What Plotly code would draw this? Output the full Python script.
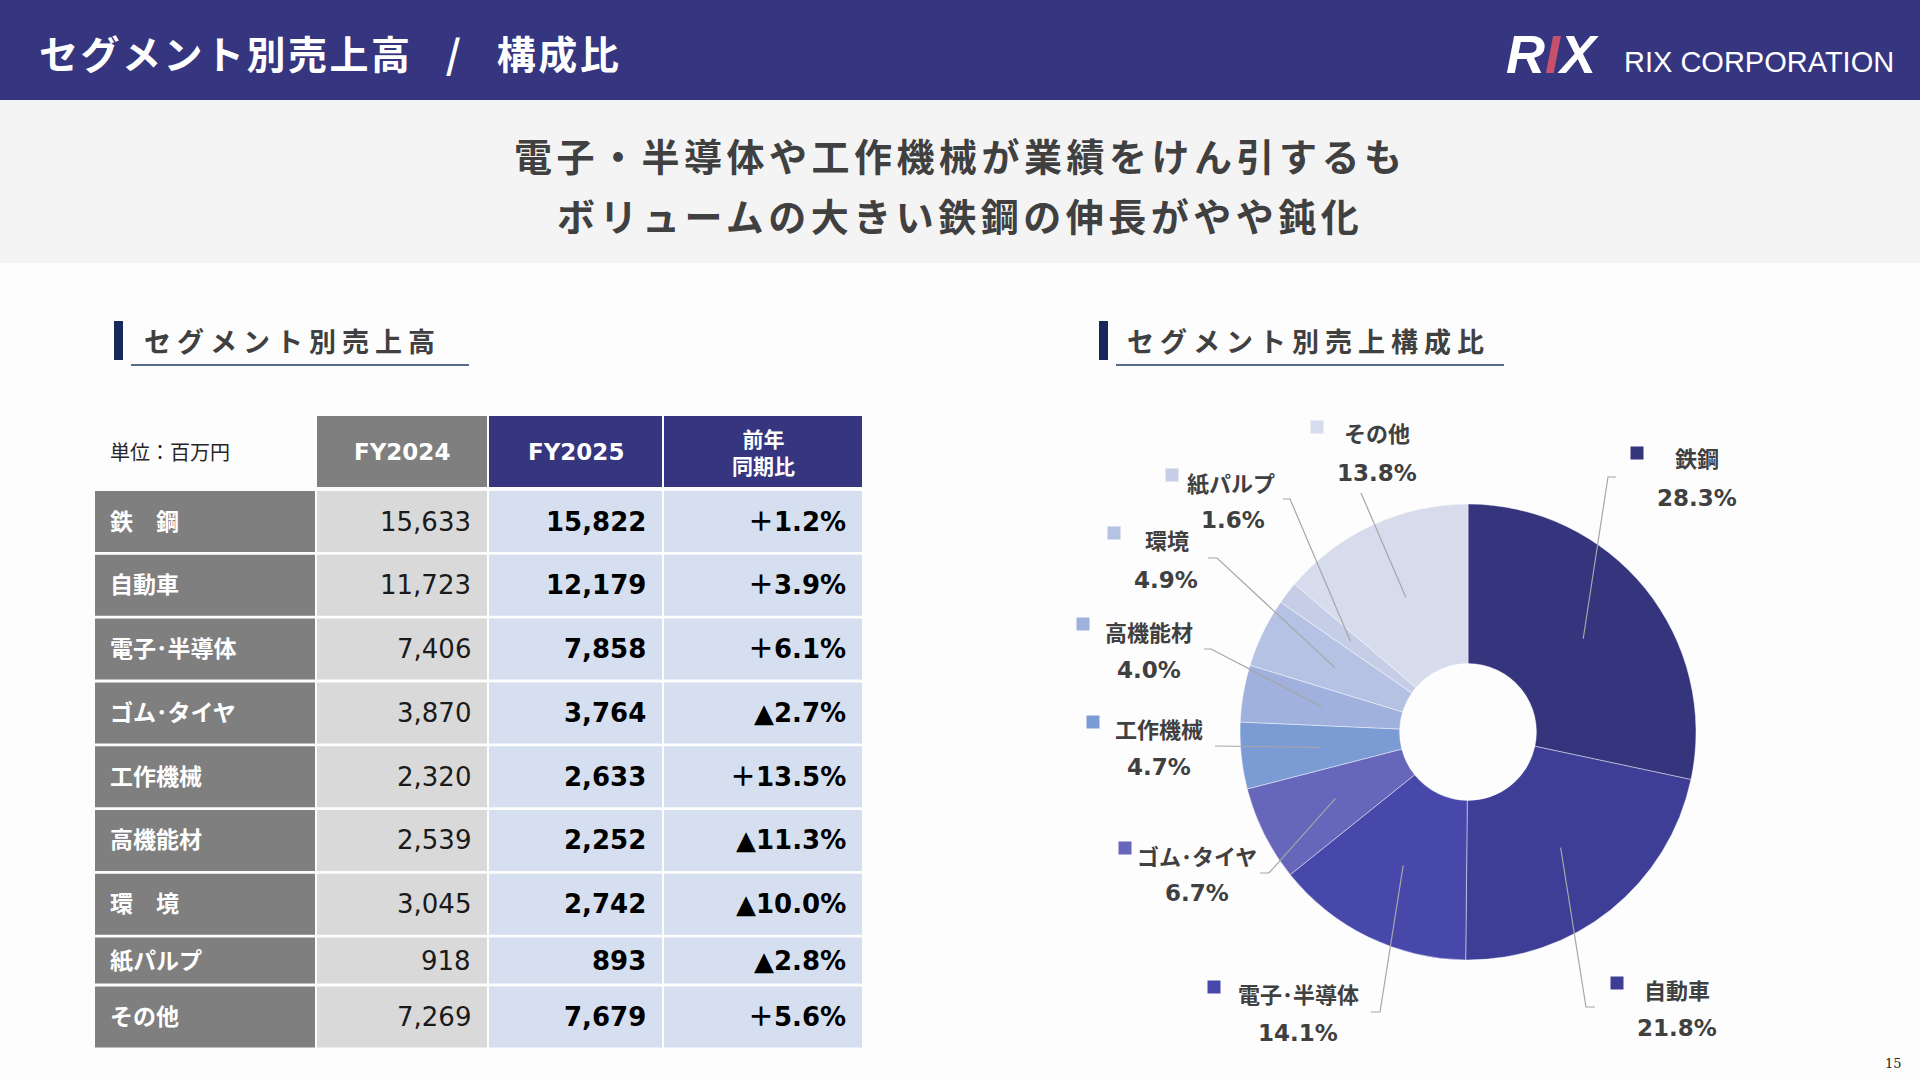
import math
import plotly.graph_objects as go

W, H = 1920, 1080

# ---------------- data ----------------
segments = ["鉄　鋼", "自動車", "電子･半導体", "ゴム･タイヤ", "工作機械", "高機能材", "環　境", "紙パルプ", "その他"]
pie_names = ["鉄鋼", "自動車", "電子･半導体", "ゴム･タイヤ", "工作機械", "高機能材", "環境", "紙パルプ", "その他"]
fy2024 = [15633, 11723, 7406, 3870, 2320, 2539, 3045, 918, 7269]
fy2025 = [15822, 12179, 7858, 3764, 2633, 2252, 2742, 893, 7679]
yoy = [1.2, 3.9, 6.1, -2.7, 13.5, -11.3, -10.0, -2.8, 5.6]
share = [28.3, 21.8, 14.1, 6.7, 4.7, 4.0, 4.9, 1.6, 13.8]
col_headers = ["単位：百万円", "FY2024", "FY2025", "前年<br>同期比"]

# ---------------- styles ----------------
JP = "Noto Sans CJK JP"
NUM = "DejaVu Sans, Noto Sans CJK JP"
NAVY = "#363580"
TXT = "#404040"
BG = "#fdfdfd"
slice_colors = ["#35357d", "#3e3e97", "#4848ab", "#6666ba", "#7b9bd4",
                "#a0b1dd", "#b5c2e3", "#c6cee7", "#d6dcec"]


def px(x):
    return x / W


def py(y):
    return 1 - y / H


fig = go.Figure()
shapes = []
ann = []


def rect(x0, x1, y0, y1, color, layer="above"):
    shapes.append(dict(type="rect", xref="paper", yref="paper", x0=px(x0), x1=px(x1),
                       y0=py(y1), y1=py(y0), fillcolor=color, line=dict(width=0), layer=layer))


def text(t, x, y, xa, size, color, family=JP, weight="normal", ya="middle", **kw):
    ann.append(dict(text=t, x=px(x), y=py(y), xanchor=xa, yanchor=ya, xref="paper", yref="paper",
                    showarrow=False, font=dict(family=family, size=size, color=color, weight=weight), **kw))


# background bands
rect(0, W, 0, 100, NAVY, "below")
rect(0, W, 100, 263, "#f4f4f4", "below")

# header title
text("<span style='letter-spacing:2.5px'>セグメント別売上高\u2002 / \u2002構成比</span>",
     37, 52, "left", 39, "white", weight="bold")
# logo
ann.append(dict(text="R<span style='color:#c8506a'>I</span>X", x=px(1552), y=py(54), xanchor="center",
                yanchor="middle", xref="paper", yref="paper", showarrow=False,
                font=dict(family="Liberation Sans", size=54, color="white", weight="bold", style="italic")))
text("RIX CORPORATION", 1896, 62, "right", 29, "white", family="Liberation Sans")

# subtitle
sub_lines = ["電子・半導体や工作機械が業績をけん引するも", "ボリュームの大きい鉄鋼の伸長がやや鈍化"]
for i, s in enumerate(sub_lines):
    text(f"<span style='letter-spacing:4.5px'>{s}</span>", 960, 155 + 59 * i, "center", 38, TXT,
         weight="bold")

# section headings
for (bx, tx, ux1, label) in [(114, 142, 469, "セグメント別売上高"), (1099, 1125, 1504, "セグメント別売上構成比")]:
    rect(bx, bx + 9, 321, 360, "#14285a")
    shapes.append(dict(type="line", xref="paper", yref="paper", x0=px(bx + 17), x1=px(ux1),
                       y0=py(365), y1=py(365), line=dict(color="#1f3864", width=1.5)))
    text(f"<span style='letter-spacing:6px'>{label}</span>", tx, 340, "left", 27, TXT, weight="bold")

# ---------------- table (cells built from the data arrays) ----------------
def fmt_yoy(v):
    return ("＋" if v >= 0 else "▲") + f"{abs(v):.1f}%"


col_x = [(95, 315), (317, 487), (489, 662), (664, 862)]
header_y = (416, 487)
row_h = [61, 61, 61, 61, 61, 61, 61, 46, 61]
row_gap = 2.8
row_top0 = 491
cell_fill = ["#7f7f7f", "#d9d9d9", "#d5dff0", "#d5dff0"]
head_fill = [None, "#7f7f7f", NAVY, NAVY]

# header row
for j, h in enumerate(col_headers):
    x0, x1 = col_x[j]
    yc = (header_y[0] + header_y[1]) / 2
    if head_fill[j]:
        rect(x0, x1, header_y[0], header_y[1], head_fill[j])
    if j == 0:
        text(h, x0 + 13, yc, "left", 20, "#262626")
    elif j == 3:
        text(f"<b>{h}</b>", (x0 + x1) / 2, yc, "center", 21, "white")
    else:
        text(f"<b>{h}</b>", (x0 + x1) / 2, yc, "center", 23, "white", family=NUM)

cell_vals = [
    [f"<b>{s}</b>" for s in segments],
    [f"{v:,}" for v in fy2024],
    [f"<b>{v:,}</b>" for v in fy2025],
    [f"<b>{fmt_yoy(v)}</b>" for v in yoy],
]
cell_font = [(JP, 23, "white"), (NUM, 26, "#1a1a1a"), (NUM, 26, "#000000"), (NUM, 26, "#000000")]

top = row_top0
for i in range(len(segments)):
    bot = top + row_h[i]
    yc = (top + bot) / 2
    for j in range(4):
        x0, x1 = col_x[j]
        rect(x0, x1, top, bot, cell_fill[j])
        fam, size, col = cell_font[j]
        if j == 0:
            text(cell_vals[j][i], x0 + 13, yc - 2, "left", size, col, family=fam)
        else:
            text(cell_vals[j][i], x1 - 14, yc, "right", size, col, family=fam)
    top = bot + row_gap

# ---------------- donut ----------------
cx, cy, R = 1468, 732, 228
fig.add_trace(go.Pie(
    labels=pie_names, values=fy2025, hole=0.30, sort=False, direction="clockwise", rotation=0,
    marker=dict(colors=slice_colors, line=dict(color="rgba(255,255,255,0.55)", width=0.8)),
    textinfo="none", showlegend=False,
    domain=dict(x=[px(cx - R), px(cx + R)], y=[py(cy + R), py(cy - R)]),
))

# label layout positions (pixels)
lab_sq = [(1637, 453), (1617, 983), (1214, 987), (1125, 848), (1093, 722), (1083, 624), (1114, 533),
          (1172, 475), (1317, 427)]
lab_name = [(1697, 457), (1677, 989), (1298, 993), (1197, 855), (1159, 728), (1149, 631), (1167, 539),
            (1231, 482), (1377, 432)]
lab_pct = [(1697, 498), (1677, 1028), (1298, 1033), (1197, 893), (1159, 767), (1149, 670), (1166, 580),
           (1233, 520), (1377, 473)]
lead_elbow = [(1608, 477), (1586, 1007), (1380, 1012), (1269, 873), (1215, 746), (1211, 649), (1217, 558),
              (1290, 499), (1361, 493)]
lead_end = [(1616, 477), (1595, 1007), (1371, 1012), (1260, 873), (1215, 746), (1204, 649), (1208, 558),
            (1283, 499), (1361, 493)]

total = sum(fy2025)
cum = 0.0
for i, v in enumerate(fy2025):
    mid = (cum + v / 2) / total * 2 * math.pi
    cum += v
    sx = cx + 0.65 * R * math.sin(mid)
    sy = cy - 0.65 * R * math.cos(mid)
    ex, ey = lead_elbow[i]
    fx, fy = lead_end[i]
    path = f"M {px(sx)},{py(sy)} L {px(ex)},{py(ey)} L {px(fx)},{py(fy)}"
    shapes.append(dict(type="path", xref="paper", yref="paper", path=path,
                       line=dict(color="#a6a6a6", width=1.2)))
    qx, qy = lab_sq[i]
    rect(qx - 6.5, qx + 6.5, qy - 6.5, qy + 6.5, slice_colors[i])
    nx, ny = lab_name[i]
    text(pie_names[i], nx, ny, "center", 22, TXT, weight="bold")
    tx, ty = lab_pct[i]
    text(f"{share[i]:.1f}%", tx, ty, "center", 23, TXT, family=NUM, weight="bold")

# page number
text("15", 1904, 1063, "right", 13, "#262626", family="DejaVu Serif")

fig.update_layout(
    width=W, height=H, autosize=False,
    margin=dict(l=0, r=0, t=0, b=0, pad=0),
    paper_bgcolor=BG, plot_bgcolor=BG,
    shapes=shapes, annotations=ann, showlegend=False,
)

fig.write_html("out.html")
